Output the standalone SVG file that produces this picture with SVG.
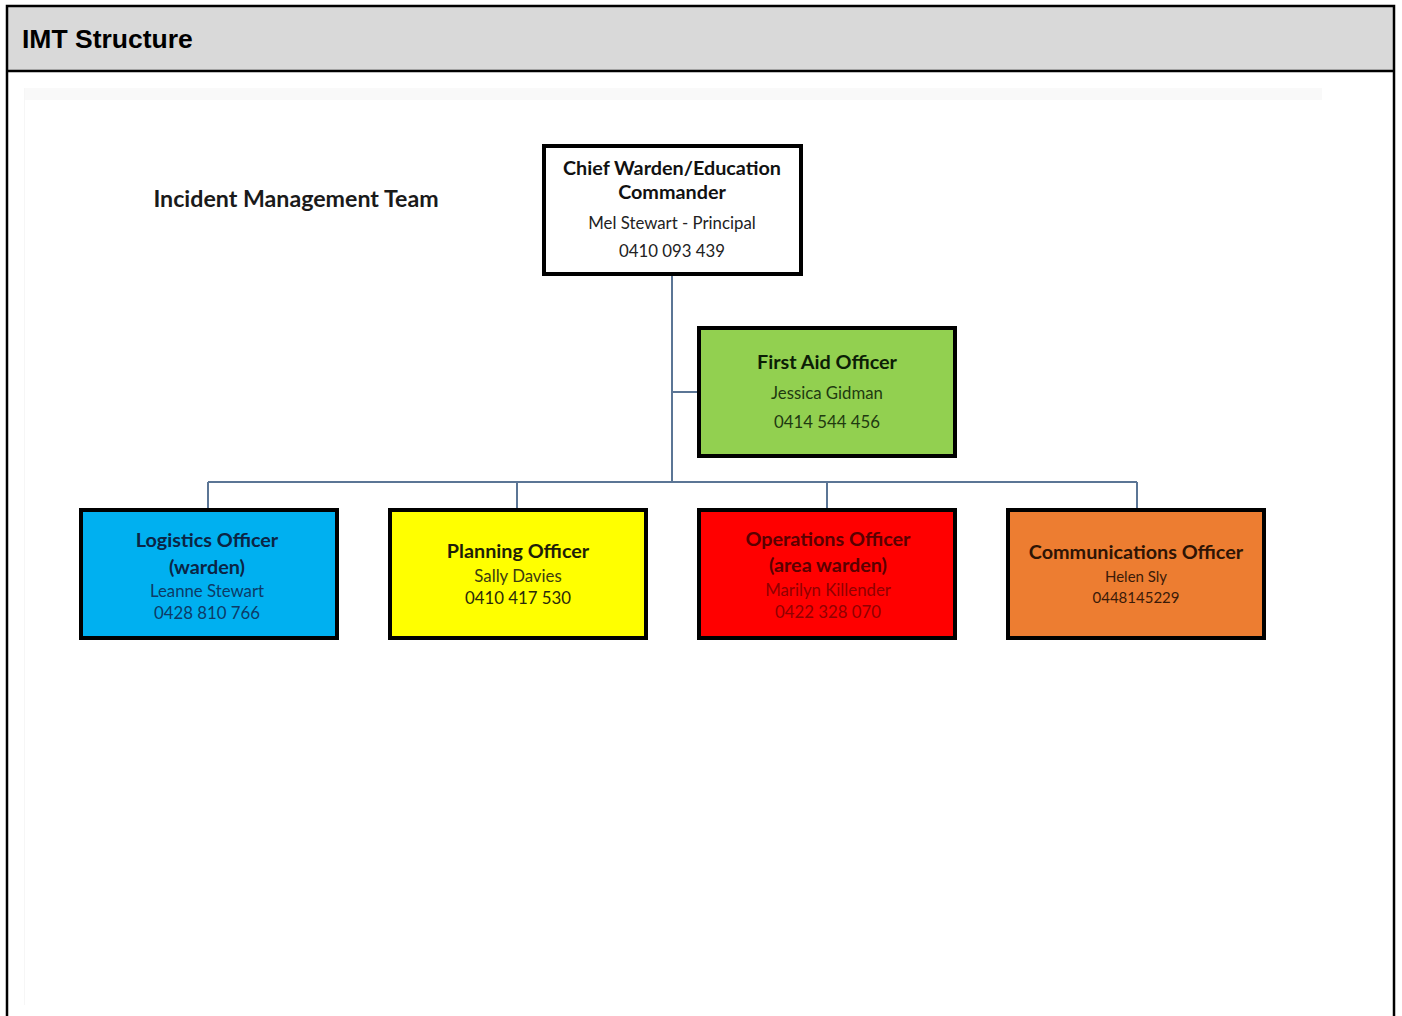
<svg xmlns="http://www.w3.org/2000/svg" width="1402" height="1016" viewBox="0 0 1402 1016">
<style>
.frame{fill:none;stroke:#000;stroke-width:2.5}
.box{stroke:#000;stroke-width:4}
.conn{stroke:#5b7595;stroke-width:2;fill:none}
text{font-family:Lato,"Liberation Sans",sans-serif;text-anchor:middle}
.t{font-weight:bold;font-size:19.8px}
.s{font-size:16.8px}
</style>
<rect x="0" y="0" width="1402" height="1016" fill="#fff"/>
<rect x="7" y="6" width="1387" height="65" fill="#d9d9d9"/>
<rect x="7" y="6" width="1387" height="1020" class="frame"/>
<line x1="7" y1="71" x2="1394" y2="71" stroke="#000" stroke-width="2.5"/>
<text x="22" y="48" style="font-family:'Liberation Sans',Arial,sans-serif;font-weight:bold;font-size:26.5px;text-anchor:start">IMT Structure</text>
<rect x="24" y="88" width="1298" height="12" fill="#f9f9f9"/>
<line x1="24.5" y1="88" x2="24.5" y2="1005" stroke="#f6f6f6" stroke-width="1"/>
<text x="296" y="207" style="font-weight:bold;font-size:23.2px" fill="#1a1a1a">Incident Management Team</text>
<g id="connectors">
<path class="conn" d="M672 274 V482 M672 392 H698 M208 482 H1137 M208 482 V509 M517 482 V509 M827 482 V509 M1137 482 V509"/>
</g>
<g id="chief">
<rect x="544" y="146" width="257" height="128" fill="#fff" class="box"/>
<text x="672" y="175" class="t" fill="#111">Chief Warden/Education</text>
<text x="672" y="199" class="t" fill="#111">Commander</text>
<text x="672" y="229" class="s" fill="#222">Mel Stewart - Principal</text>
<text x="672" y="257" class="s" fill="#222">0410 093 439</text>
</g>
<g id="firstaid">
<rect x="699" y="328" width="256" height="128" fill="#92d050" class="box"/>
<text x="827" y="369" class="t" fill="#0c1e06">First Aid Officer</text>
<text x="827" y="399" class="s" fill="#1f3a10">Jessica Gidman</text>
<text x="827" y="428" class="s" fill="#1f3a10">0414 544 456</text>
</g>
<g id="logistics">
<rect x="81" y="510" width="256" height="128" fill="#00b0f0" class="box"/>
<text x="207" y="547" class="t" fill="#0b2545">Logistics Officer</text>
<text x="207" y="574" class="t" fill="#0b2545">(warden)</text>
<text x="207" y="597" class="s" fill="#0d3a66">Leanne Stewart</text>
<text x="207" y="619" class="s" fill="#0d3a66">0428 810 766</text>
</g>
<g id="planning">
<rect x="390" y="510" width="256" height="128" fill="#ffff00" class="box"/>
<text x="518" y="558" class="t" fill="#1e1e08">Planning Officer</text>
<text x="518" y="582" class="s" fill="#3c3c10">Sally Davies</text>
<text x="518" y="604" class="s" fill="#2a2a0a">0410 417 530</text>
</g>
<g id="operations">
<rect x="699" y="510" width="256" height="128" fill="#ff0000" class="box"/>
<text x="828" y="546" class="t" fill="#5a0000">Operations Officer</text>
<text x="828" y="572" class="t" fill="#5a0000">(area warden)</text>
<text x="828" y="596" class="s" fill="#900000">Marilyn Killender</text>
<text x="828" y="618" class="s" fill="#900000">0422 328 070</text>
</g>
<g id="communications">
<rect x="1008" y="510" width="256" height="128" fill="#ed7d31" class="box"/>
<text x="1136" y="559" class="t" fill="#2e1405">Communications Officer</text>
<text x="1136" y="582" style="font-size:15px" fill="#3a1a08">Helen Sly</text>
<text x="1136" y="603" style="font-size:15px" fill="#3a1a08">0448145229</text>
</g>
</svg>
